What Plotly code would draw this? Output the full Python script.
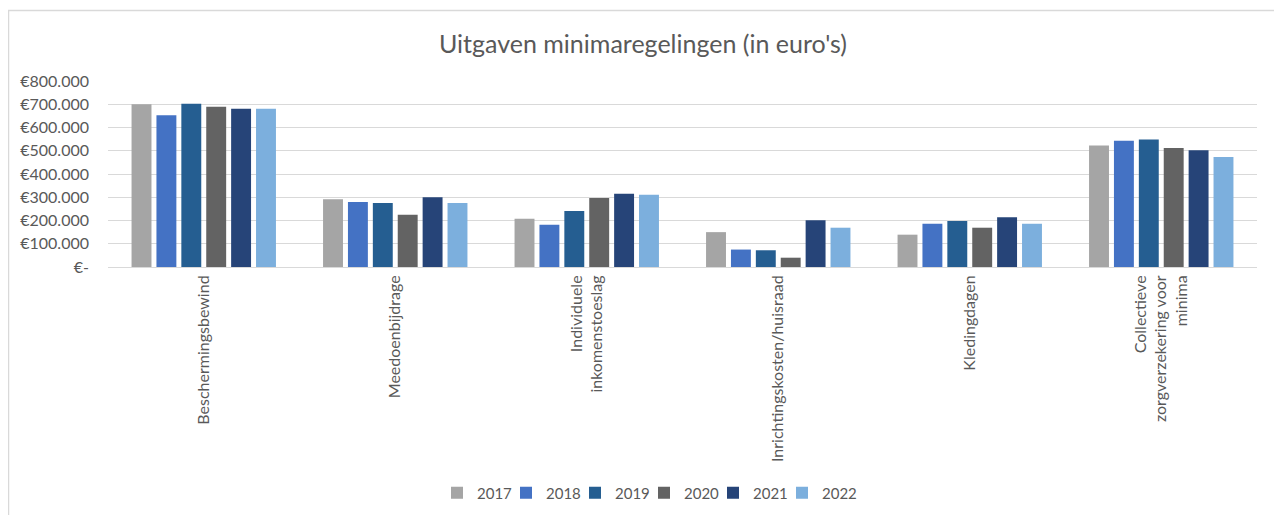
import plotly.graph_objects as go

categories = [
    "Beschermingsbewind",
    "Meedoenbijdrage",
    "Individuele<br>inkomenstoeslag",
    "Inrichtingskosten/huisraad",
    "Kledingdagen",
    "Collectieve<br>zorgverzekering voor<br>minima",
]
years = ["2017", "2018", "2019", "2020", "2021", "2022"]
colors = ["#A5A5A5", "#4472C4", "#255E91", "#636363", "#264478", "#7CAFDD"]

v2017 = [700000, 291000, 208000, 150000, 139000, 523000]
v2018 = [653000, 280000, 182000, 75000, 186000, 543000]
v2019 = [702000, 275000, 241000, 72000, 198000, 548000]
v2020 = [689000, 225000, 297000, 40000, 169000, 512000]
v2021 = [681000, 300000, 315000, 201000, 214000, 502000]
v2022 = [681000, 275000, 311000, 169000, 186000, 473000]
series = [v2017, v2018, v2019, v2020, v2021, v2022]

y_tickvals = [0, 100000, 200000, 300000, 400000, 500000, 600000, 700000, 800000]
y_ticktext = ["€-", "€100.000", "€200.000", "€300.000", "€400.000",
              "€500.000", "€600.000", "€700.000", "€800.000"]

title_text = "Uitgaven minimaregelingen (in euro's)"

FONT = "Lato, 'Open Sans', sans-serif"
TXT = "#595959"

fig = go.Figure()
for name, vals, col in zip(years, series, colors):
    fig.add_trace(go.Bar(
        x=categories, y=vals, name=name,
        marker=dict(color=col, line=dict(width=0)),
    ))
# invisible spacer legend entry so the last legend label is not clipped
fig.add_trace(go.Scatter(
    x=[None], y=[None], mode="markers", name="\u00a0", hoverinfo="skip",
    showlegend=True,
    marker=dict(color="rgba(0,0,0,0)", size=1),
))

OFF = 8  # default page body margin
W, H = 1282 - OFF, 515 - OFF
# plot area in page pixels: x 108..1257, y 81..267
L = 108 - OFF
R = W - (1257 - OFF)
T = 81 - OFF
B = H - (267 - OFF)
pw = W - L - R
ph = H - T - B

def px_x(x):
    return (x - OFF - L) / pw

def px_y(y):
    return (H - B - (y - OFF)) / ph

fig.update_layout(
    width=W, height=H,
    margin=dict(l=L, r=R, t=T, b=B, autoexpand=False),
    paper_bgcolor="white",
    plot_bgcolor="white",
    barmode="group",
    bargap=0.22,
    bargroupgap=0.2,
    font=dict(family=FONT, color=TXT, size=14),
    title=dict(text=title_text, x=(643 - OFF) / W, xanchor="center",
               y=1 - (44 - OFF) / H, yanchor="middle",
               font=dict(family=FONT, size=25, color=TXT)),
    legend=dict(orientation="h", x=px_x(437), xanchor="left",
                y=px_y(493), yanchor="middle",
                font=dict(family=FONT, size=15, color=TXT),
                itemwidth=30, traceorder="normal",
                entrywidth=24, entrywidthmode="pixels"),
    xaxis=dict(
        tickangle=-90, showgrid=False, showline=True, linecolor="#D9D9D9",
        linewidth=1, ticks="", ticklabelstandoff=1,
        tickfont=dict(family=FONT, size=16, color=TXT),
    ),
    yaxis=dict(
        range=[0, 800000], tickvals=y_tickvals, ticktext=y_ticktext,
        showgrid=True, gridcolor="#D9D9D9", gridwidth=1,
        zeroline=True, zerolinecolor="#D9D9D9", zerolinewidth=1,
        ticks="", ticklabelstandoff=18,
        tickfont=dict(family=FONT, size=16, color=TXT),
    ),
    shapes=[dict(
        type="rect", xref="paper", yref="paper",
        x0=px_x(8.5), x1=px_x(1278.5), y0=px_y(540), y1=px_y(10.5),
        line=dict(color="#D9D9D9", width=1.5), fillcolor="rgba(0,0,0,0)",
        layer="below",
    )],
)

fig.write_html("out.html")
